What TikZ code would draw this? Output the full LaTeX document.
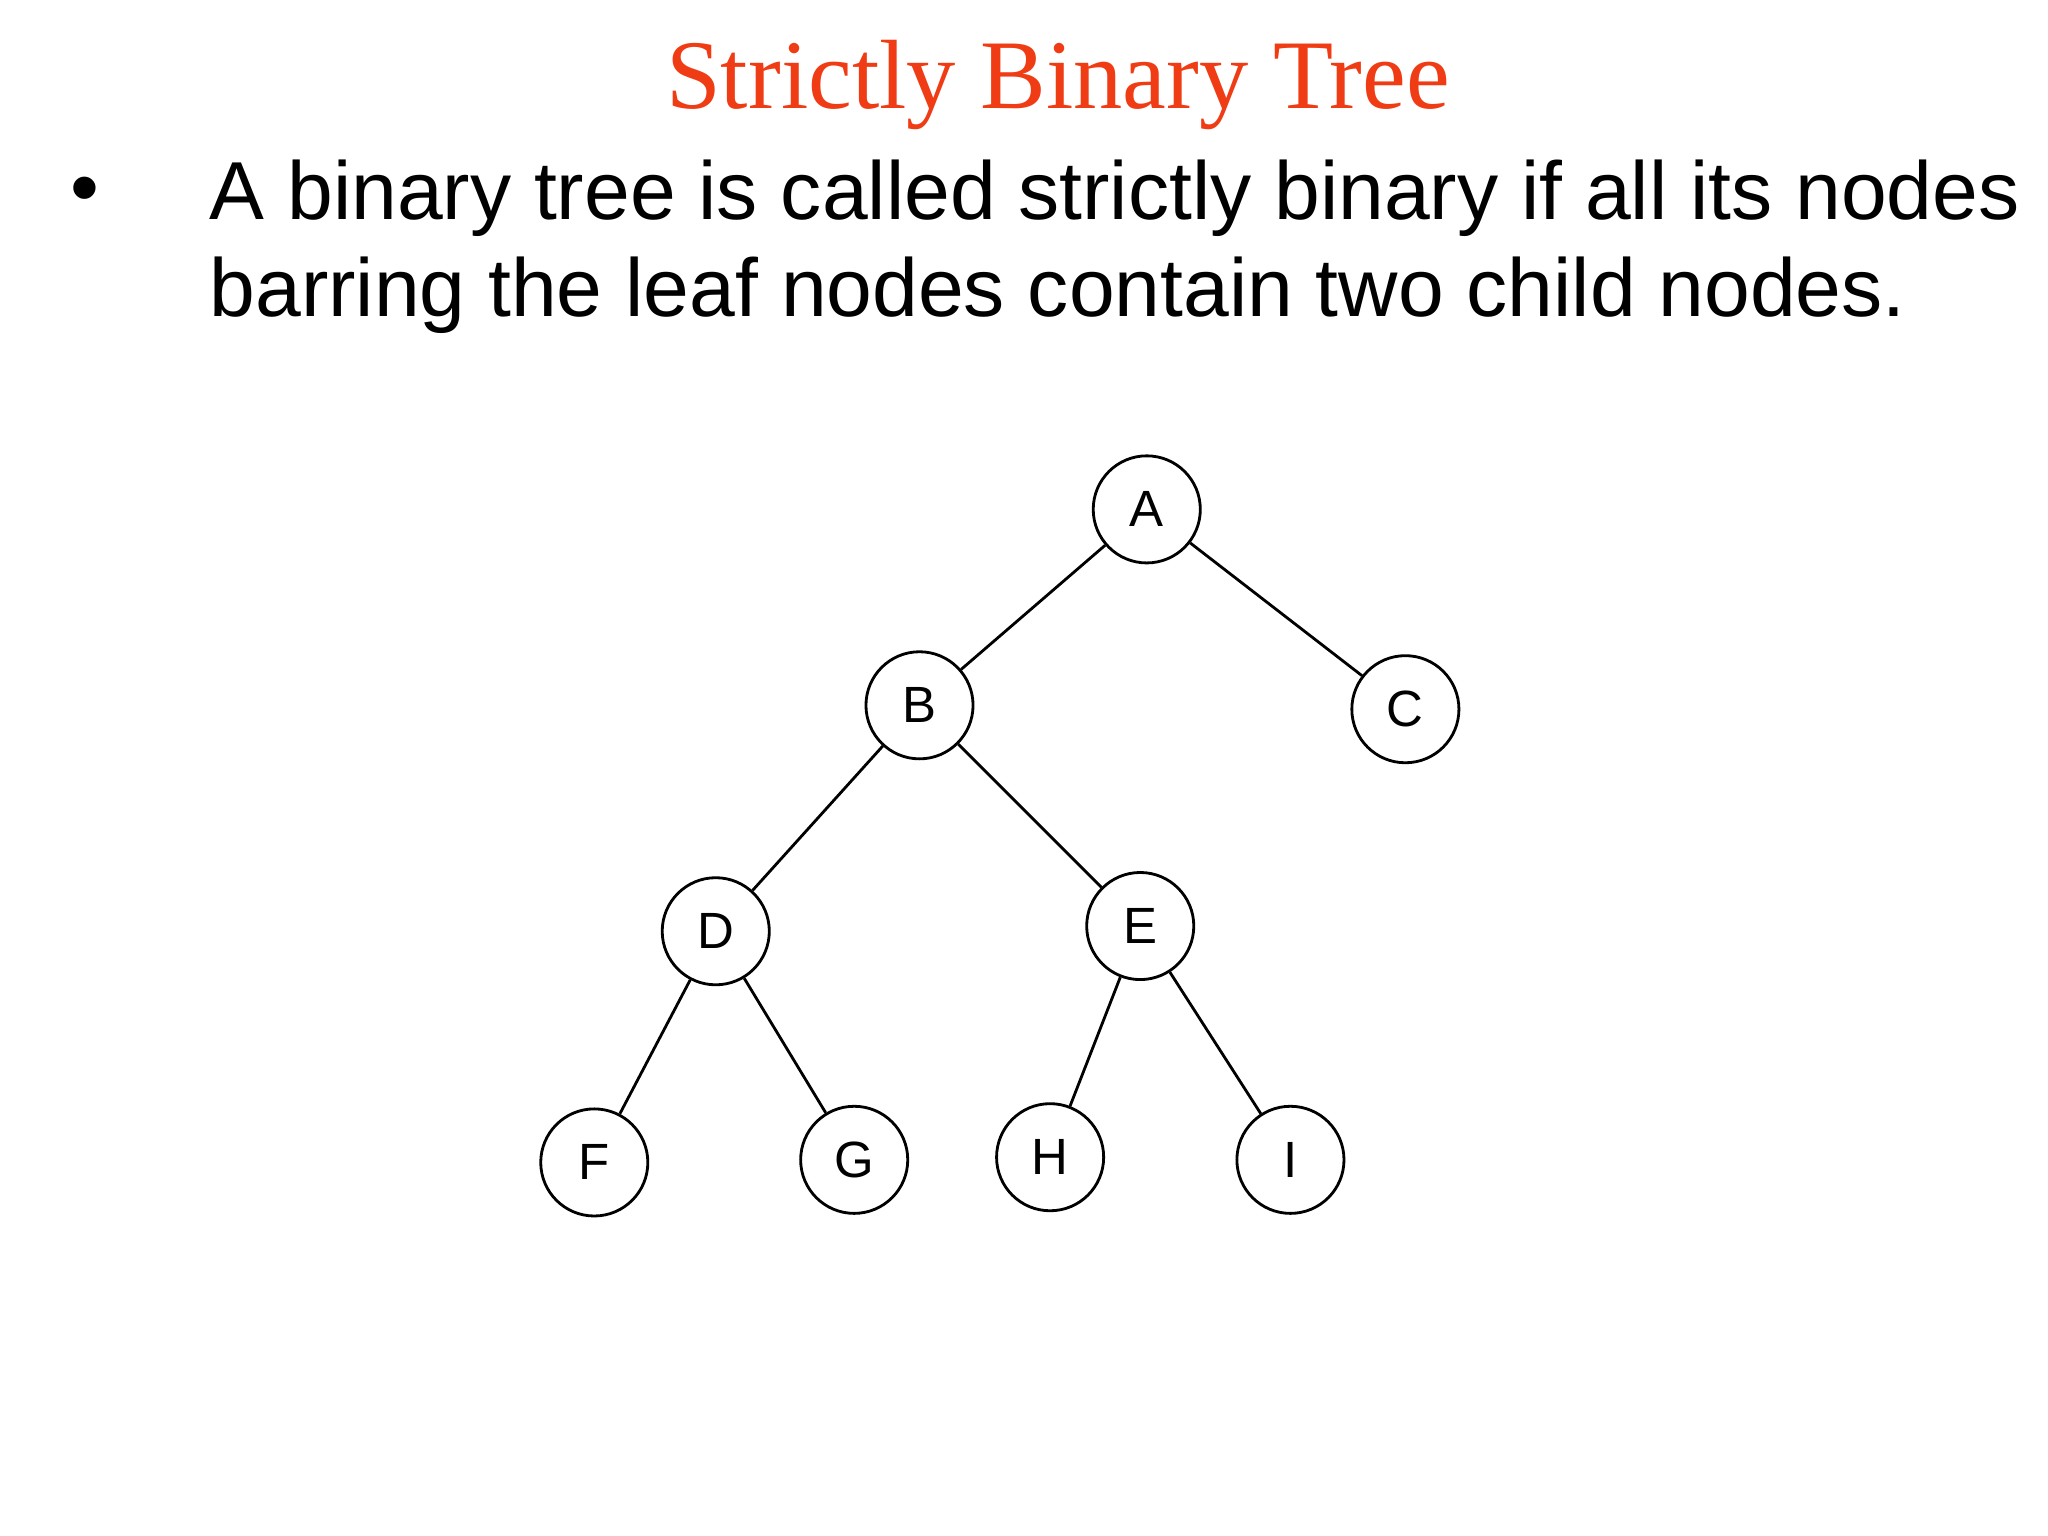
\documentclass[tikz,border=0pt]{standalone}
\usepackage{fontspec}
\setmainfont{Liberation Sans}
\newfontfamily\titlefont{Liberation Serif}
\definecolor{titlered}{RGB}{240,60,20}
\begin{document}
\begin{tikzpicture}[x=0.01306cm,y=-0.01306cm,
  tn/.style={circle,draw,line width=0.8pt,minimum size=82*0.01306cm,inner sep=0pt,font=\fontsize{14.5}{16}\selectfont},
  ed/.style={line width=0.8pt}]
\useasboundingbox (0,0) rectangle (1568,1176);
\node[font=\titlefont\fontsize{28}{32}\selectfont,text=titlered] (title) at (810,65) {Strictly Binary Tree};
\node[font=\fontsize{23.4}{28}\selectfont] (bul) at (65,150) {•};
\node[anchor=north west,align=left,font=\fontsize{23.4}{27.5}\selectfont,inner sep=0pt] (txt) at (160,122)
 {A binary tree is called strictly binary if all its nodes\\barring the leaf nodes contain two child nodes.};
\node[tn] (A) at (878,390) {A};
\node[tn] (B) at (704,540) {B};
\node[tn] (C) at (1076,543) {C};
\node[tn] (D) at (548,713) {D};
\node[tn] (E) at (873,709) {E};
\node[tn] (F) at (455,890) {F};
\node[tn] (G) at (654,888) {G};
\node[tn] (H) at (804,886) {H};
\node[tn] (I) at (988,888) {I};
\draw[ed] (A)--(B); \draw[ed] (A)--(C);
\draw[ed] (B)--(D); \draw[ed] (B)--(E);
\draw[ed] (D)--(F); \draw[ed] (D)--(G);
\draw[ed] (E)--(H); \draw[ed] (E)--(I);
\end{tikzpicture}
\end{document}
